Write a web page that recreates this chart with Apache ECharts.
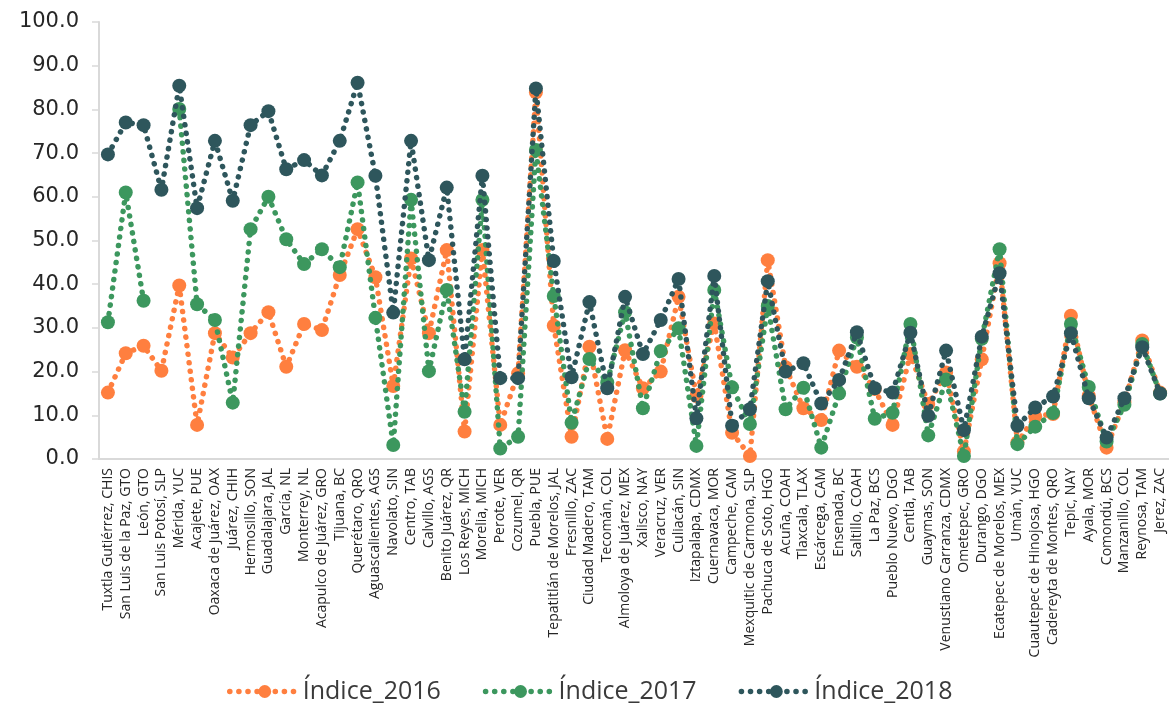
<!DOCTYPE html>
<html>
<head>
<meta charset="utf-8">
<script src="https://cdn.jsdelivr.net/npm/echarts@6/dist/echarts.min.js"></script>
<style>html,body{margin:0;padding:0;background:#fff;}#c{width:1169px;height:709px;}</style>
</head>
<body>
<div id="c"></div>
<script>
const categories = ["Tuxtla Gutiérrez, CHIS","San Luis de la Paz, GTO","León, GTO","San Luis Potosí, SLP","Mérida, YUC","Acajete, PUE","Oaxaca de Juárez, OAX","Juárez, CHIH","Hermosillo, SON","Guadalajara, JAL","García, NL","Monterrey, NL","Acapulco de Juárez, GRO","Tijuana, BC","Querétaro, QRO","Aguascalientes, AGS","Navolato, SIN","Centro, TAB","Calvillo, AGS","Benito Juárez, QR","Los Reyes, MICH","Morelia, MICH","Perote, VER","Cozumel, QR","Puebla, PUE","Tepatitlán de Morelos, JAL","Fresnillo, ZAC","Ciudad Madero, TAM","Tecomán, COL","Almoloya de Juárez, MEX","Xalisco, NAY","Veracruz, VER","Culiacán, SIN","Iztapalapa, CDMX","Cuernavaca, MOR","Campeche, CAM","Mexquitic de Carmona, SLP","Pachuca de Soto, HGO","Acuña, COAH","Tlaxcala, TLAX","Escárcega, CAM","Ensenada, BC","Saltillo, COAH","La Paz, BCS","Pueblo Nuevo, DGO","Centla, TAB","Guaymas, SON","Venustiano Carranza, CDMX","Ometepec, GRO","Durango, DGO","Ecatepec de Morelos, MEX","Umán, YUC","Cuautepec de Hinojosa, HGO","Cadereyta de Montes, QRO","Tepic, NAY","Ayala, MOR","Comondú, BCS","Manzanillo, COL","Reynosa, TAM","Jerez, ZAC"];

const indice2016 = [15.2,24.2,25.9,20.2,39.7,7.8,28.8,23.2,28.8,33.6,21.1,30.9,29.5,42.1,52.6,41.6,16.7,45.9,28.8,47.8,6.3,47.8,7.8,19.6,83.9,30.5,5.1,25.7,4.6,24.9,16.2,20.0,37.1,14.4,31.0,6.0,0.7,45.5,21.0,11.6,8.9,24.8,21.1,16.0,7.8,24.0,12.6,19.8,1.7,22.8,44.8,3.8,9.7,10.3,32.8,14.5,2.6,13.0,27.1,15.2];

const indice2017 = [31.3,61.0,36.2,null,80.1,35.4,31.8,12.9,52.6,60.0,50.3,44.6,48.0,43.9,63.3,32.3,3.2,59.3,20.1,38.7,10.8,59.3,2.4,5.1,70.7,37.3,8.3,22.9,17.5,33.6,11.6,24.7,29.9,3.0,38.7,16.4,8.0,35.0,11.4,16.3,2.6,15.0,27.8,9.2,10.6,30.9,5.4,18.2,0.7,27.5,48.0,3.4,7.4,10.5,30.9,16.5,4.0,12.4,26.3,15.0];

const indice2018 = [69.7,77.0,76.4,61.6,85.4,57.4,72.8,59.1,76.4,79.6,66.3,68.4,64.9,72.8,86.1,64.8,33.5,72.8,45.5,62.1,22.8,64.8,18.5,18.5,84.8,45.3,18.7,35.9,16.2,37.1,24.0,31.8,41.2,9.3,41.9,7.6,11.4,40.7,20.0,21.9,12.7,18.1,29.0,16.2,15.2,28.9,9.9,24.8,6.6,28.0,42.5,7.6,11.8,14.3,28.8,13.9,4.9,13.9,25.6,15.0];

const seriesNames = ["Índice_2016","Índice_2017","Índice_2018"];
const seriesColors = ["#FF7F3F","#3C975E","#2E565C"];
const seriesData = [indice2016, indice2017, indice2018];

const chart = echarts.init(document.getElementById('c'), null, {renderer:'canvas'});
const font = "'Open Sans', 'DejaVu Sans', sans-serif";

chart.setOption({
  animation: false,
  backgroundColor: '#fff',
  grid: {left: 99, right: -9, top: 22, bottom: 250, containLabel: false},
  legend: {
    bottom: 0, left: 222,
    itemWidth: 70, itemHeight: 16, itemGap: 42,
    textStyle: {fontFamily: font, fontSize: 25, color: '#3a3a3a', padding: [0, 0, 0, -2]},
    lineStyle: {width: 5.5, type: [0.1, 9], cap: 'round'},
    data: seriesNames
  },
  xAxis: {
    type: 'category',
    data: categories,
    boundaryGap: true,
    axisLine: {lineStyle: {color: '#d9d9d9', width: 2}},
    axisTick: {show: false},
    axisLabel: {interval: 0, rotate: 90, fontFamily: font, fontSize: 14, color: '#262626', margin: 9}
  },
  yAxis: {
    type: 'value', min: 0, max: 100, interval: 10,
    splitLine: {show: false},
    axisLine: {show: true, lineStyle: {color: '#d9d9d9', width: 2}},
    axisTick: {show: true, length: 7, lineStyle: {color: '#d9d9d9', width: 1.5}},
    axisLabel: {fontFamily: "'DejaVu Sans', sans-serif", fontSize: 21, color: '#262626', margin: 20,
      formatter: v => v.toFixed(1)}
  },
  series: seriesData.map((d, i) => ({
    name: seriesNames[i],
    type: 'line',
    data: d,
    connectNulls: false,
    symbol: 'circle',
    symbolSize: 14,
    showAllSymbol: true,
    itemStyle: {color: seriesColors[i]},
    lineStyle: {color: seriesColors[i], width: 5.5, type: [0.1, 8.5], cap: 'round'},
    z: 2 + i
  }))
});
</script>
</body>
</html>
